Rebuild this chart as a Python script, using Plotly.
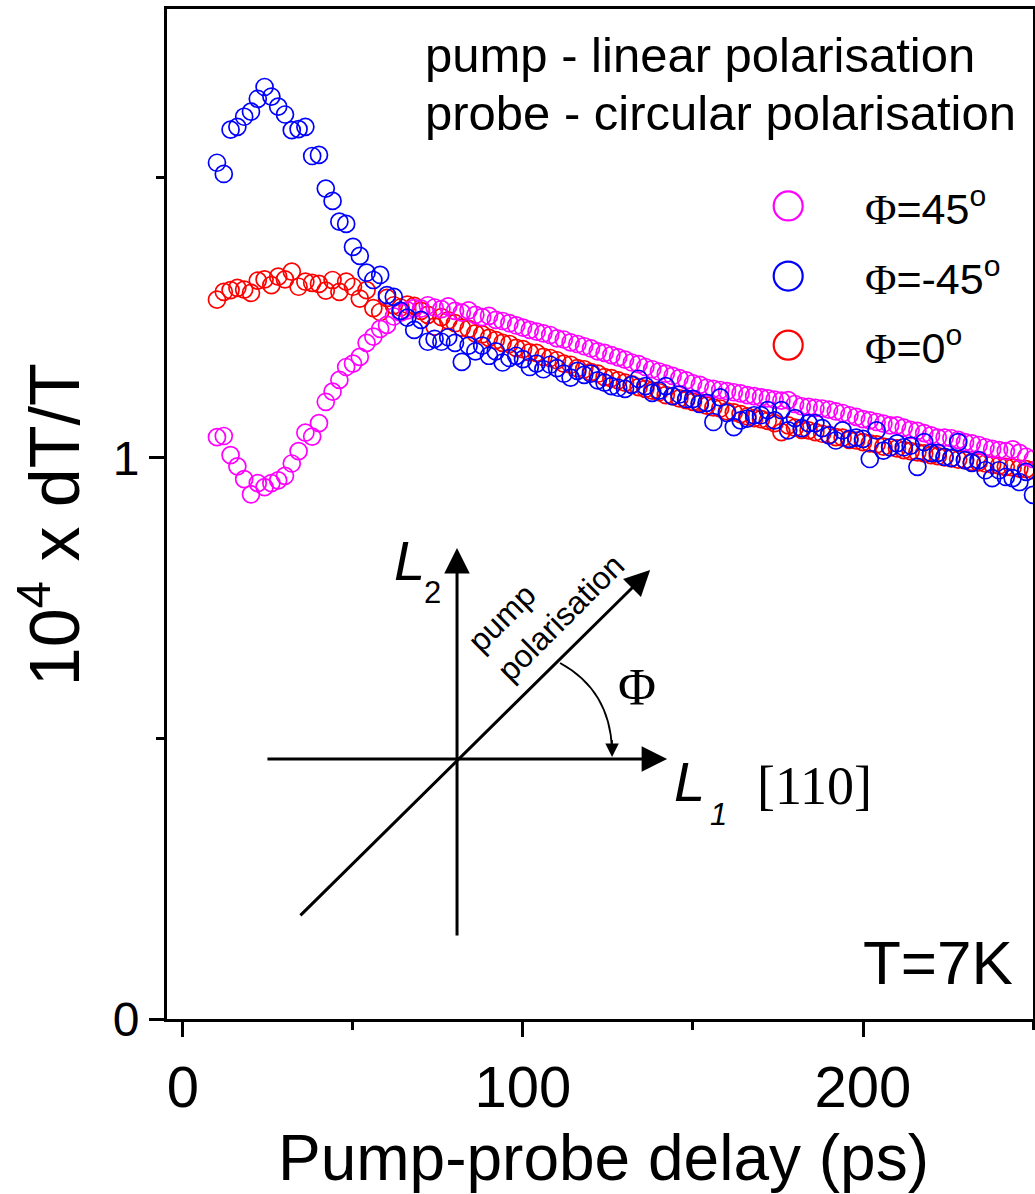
import plotly.graph_objects as go

# ---------------- data ----------------
delay_ps = [10, 12, 14, 16, 18, 20, 22, 24, 26, 28,
            30, 32, 34, 36, 38, 40, 42, 44, 46, 48,
            50, 52, 54, 56, 58, 60, 62, 64, 66, 68,
            70, 72, 74, 76, 78, 80, 82, 84, 86, 88,
            90, 92, 94, 96, 98, 100, 102, 104, 106, 108,
            110, 112, 114, 116, 118, 120, 122, 124, 126, 128,
            130, 132, 134, 136, 138, 140, 142, 144, 146, 148,
            150, 152, 154, 156, 158, 160, 162, 164, 166, 168,
            170, 172, 174, 176, 178, 180, 182, 184, 186, 188,
            190, 192, 194, 196, 198, 200, 202, 204, 206, 208,
            210, 212, 214, 216, 218, 220, 222, 224, 226, 228,
            230, 232, 234, 236, 238, 240, 242, 244, 246, 248,
            250]

phi_p45 = [1.037, 1.039, 1.005, 0.985, 0.962, 0.935, 0.955, 0.948, 0.955, 0.960,
           0.968, 0.990, 1.012, 1.045, 1.038, 1.062, 1.100, 1.118, 1.139, 1.162,
           1.168, 1.180, 1.205, 1.216, 1.230, 1.237, 1.252, 1.259, 1.263, 1.267,
           1.266, 1.272, 1.268, 1.265, 1.270, 1.262, 1.259, 1.263, 1.255, 1.251,
           1.253, 1.246, 1.244, 1.240, 1.236, 1.232, 1.228, 1.225, 1.222, 1.219,
           1.213, 1.211, 1.206, 1.203, 1.199, 1.195, 1.190, 1.187, 1.183, 1.179,
           1.175, 1.170, 1.167, 1.162, 1.158, 1.154, 1.150, 1.146, 1.142, 1.138,
           1.133, 1.130, 1.125, 1.123, 1.121, 1.119, 1.117, 1.115, 1.112, 1.110,
           1.108, 1.106, 1.104, 1.102, 1.103, 1.096, 1.092, 1.091, 1.089, 1.088,
           1.086, 1.083, 1.080, 1.076, 1.073, 1.069, 1.067, 1.064, 1.061, 1.058,
           1.058, 1.054, 1.050, 1.048, 1.044, 1.040, 1.036, 1.036, 1.035, 1.032,
           1.028, 1.026, 1.023, 1.019, 1.016, 1.014, 1.012, 1.015, 1.009, 1.002,
           0.998]

phi_m45 = [1.526, 1.506, 1.585, 1.590, 1.608, 1.617, 1.640, 1.661, 1.644, 1.626,
           1.612, 1.584, 1.586, 1.590, 1.538, 1.540, 1.480, 1.458, 1.421, 1.417,
           1.376, 1.360, 1.330, 1.317, 1.326, 1.290, 1.287, 1.262, 1.250, 1.228,
           1.246, 1.207, 1.212, 1.207, 1.215, 1.205, 1.171, 1.200, 1.190, 1.200,
           1.182, 1.190, 1.170, 1.178, 1.182, 1.176, 1.162, 1.168, 1.158, 1.166,
           1.160, 1.150, 1.143, 1.155, 1.148, 1.150, 1.138, 1.134, 1.128, 1.125,
           1.123, 1.130, 1.141, 1.128, 1.116, 1.120, 1.128, 1.110, 1.113, 1.105,
           1.105, 1.096, 1.098, 1.064, 1.108, 1.080, 1.055, 1.067, 1.070, 1.076,
           1.076, 1.085, 1.067, 1.085, 1.049, 1.071, 1.053, 1.062, 1.062, 1.053,
           1.040, 1.031, 1.049, 1.034, 1.036, 1.034, 0.998, 1.049, 1.013, 1.019,
           1.026, 1.019, 1.022, 0.984, 1.028, 1.009, 1.009, 1.002, 1.000, 1.028,
           0.996, 0.991, 0.996, 0.978, 0.964, 0.978, 0.966, 0.964, 0.957, 0.975,
           0.934]

phi_0 = [1.282, 1.296, 1.299, 1.303, 1.300, 1.294, 1.316, 1.318, 1.308, 1.323,
         1.318, 1.332, 1.305, 1.314, 1.312, 1.310, 1.298, 1.317, 1.296, 1.314,
         1.305, 1.284, 1.299, 1.267, 1.260, 1.285, 1.272, 1.268, 1.273, 1.271,
         1.262, 1.255, 1.234, 1.251, 1.245, 1.240, 1.232, 1.230, 1.222, 1.220,
         1.214, 1.210, 1.205, 1.203, 1.196, 1.194, 1.188, 1.187, 1.180, 1.178,
         1.174, 1.168, 1.166, 1.160, 1.158, 1.153, 1.150, 1.144, 1.142, 1.138,
         1.134, 1.131, 1.126, 1.123, 1.120, 1.117, 1.112, 1.110, 1.106, 1.103,
         1.100, 1.098, 1.093, 1.090, 1.088, 1.083, 1.081, 1.078, 1.074, 1.071,
         1.069, 1.066, 1.062, 1.046, 1.058, 1.054, 1.050, 1.049, 1.046, 1.043,
         1.041, 1.037, 1.036, 1.032, 1.031, 1.028, 1.026, 1.024, 1.020, 1.019,
         1.017, 1.014, 1.012, 1.010, 1.008, 1.005, 1.003, 1.001, 0.999, 0.997,
         0.996, 0.993, 0.992, 0.990, 0.988, 0.986, 0.984, 0.983, 0.981, 0.980,
         0.978]

series_names = ["Φ=45<sup>o</sup>", "Φ=-45<sup>o</sup>", "Φ=0<sup>o</sup>"]
series_colors = ["#FF00FF", "#0000FF", "#FF0000"]

x_ticks = [0, 100, 200]
x_minor = [50, 150, 250]
y_ticks = [0, 1]
y_minor = [0.5, 1.5]

SANS = "Liberation Sans, Arial, sans-serif"
SERIF = "Liberation Serif, Times New Roman, serif"

fig = go.Figure()

# draw order: red below, magenta, blue on top
for ys, col in [(phi_0, series_colors[2]), (phi_p45, series_colors[0]), (phi_m45, series_colors[1])]:
    fig.add_trace(go.Scatter(
        x=delay_ps, y=ys, mode="markers", showlegend=False,
        marker=dict(symbol="circle-open", size=17, color=col, line=dict(width=1.7, color=col)),
    ))

# hand-made legend (large symbols)
legend_x = 178
legend_y = [1.449, 1.324, 1.201]
for ly, col, name in zip(legend_y, series_colors, series_names):
    fig.add_trace(go.Scatter(
        x=[legend_x], y=[ly], mode="markers", showlegend=False, cliponaxis=False,
        marker=dict(symbol="circle-open", size=29, color=col, line=dict(width=2.2, color=col)),
    ))
    fig.add_annotation(
        x=200, y=ly, xref="x", yref="y", xanchor="left", yanchor="middle", showarrow=False,
        text=name.replace("Φ", "<span style='font-family:Liberation Serif'>Φ</span>"),
        font=dict(family=SANS, size=43, color="black"),
    )

annotations = []
# header text
annotations.append(dict(x=70.6, y=1.718, xref="x", yref="y", xanchor="left", yanchor="middle",
                        showarrow=False, text="pump - linear polarisation",
                        font=dict(family=SANS, size=49, color="black")))
annotations.append(dict(x=70.6, y=1.615, xref="x", yref="y", xanchor="left", yanchor="middle",
                        showarrow=False, text="probe - circular polarisation",
                        font=dict(family=SANS, size=49, color="black")))
# temperature
annotations.append(dict(x=244.7, y=0.10, xref="x", yref="y", xanchor="right", yanchor="middle",
                        showarrow=False, text="T=7K",
                        font=dict(family=SANS, size=62, color="black")))

# inset diagram: arrows (tip x,y ; tail ax,ay) in axis units
arrows = [
    (142.4, 0.4635, 24.4, 0.4635),   # L1 axis
    (80.6, 0.8396, 80.6, 0.146),     # L2 axis
    (137.4, 0.800, 34.1, 0.182),     # pump polarisation
]
for (xt, yt, xa, ya) in arrows:
    annotations.append(dict(x=xt, y=yt, ax=xa, ay=ya, xref="x", yref="y", axref="x", ayref="y",
                            text="", showarrow=True, arrowhead=2, arrowsize=1.7, arrowwidth=3,
                            arrowcolor="black"))
# small arrowhead at the end of the angle arc
annotations.append(dict(x=126.2, y=0.467, ax=126.2, ay=0.50, xref="x", yref="y", axref="x", ayref="y",
                        text="", showarrow=True, arrowhead=2, arrowsize=1.8, arrowwidth=1.5,
                        arrowcolor="black"))

# inset labels
annotations += [
    dict(x=66.5, y=0.818, xref="x", yref="y", showarrow=False, text="<i>L</i>",
         font=dict(family=SANS, size=56, color="black")),
    dict(x=73.4, y=0.760, xref="x", yref="y", showarrow=False, text="2",
         font=dict(family=SANS, size=31, color="black")),
    dict(x=149.1, y=0.424, xref="x", yref="y", showarrow=False, text="<i>L</i>",
         font=dict(family=SANS, size=56, color="black")),
    dict(x=157.6, y=0.365, xref="x", yref="y", showarrow=False, text="<i>1</i>",
         font=dict(family=SANS, size=31, color="black")),
    dict(x=185.6, y=0.415, xref="x", yref="y", showarrow=False, text="[110]",
         font=dict(family=SERIF, size=54, color="black")),
    dict(x=133.5, y=0.590, xref="x", yref="y", showarrow=False, text="Φ",
         font=dict(family=SERIF, size=52, color="black")),
    dict(x=106.8, y=0.742, xref="x", yref="y", showarrow=False, text="pump<br>polarisation",
         textangle=-45, align="left", font=dict(family=SANS, size=32, color="black")),
]

# axis titles
annotations.append(dict(x=0.5035, y=-0.1376, xref="paper", yref="paper", showarrow=False,
                        xanchor="center", yanchor="middle", text="Pump-probe delay (ps)",
                        font=dict(family=SANS, size=64, color="black")))
annotations.append(dict(x=-0.135, y=0.489, xref="paper", yref="paper", showarrow=False,
                        xanchor="center", yanchor="middle", textangle=-90,
                        text="10<sup>4</sup> x dT/T",
                        font=dict(family=SANS, size=70, color="black")))

for a in annotations:
    fig.add_annotation(**a)

# angle arc
fig.add_shape(type="path", xref="x", yref="y",
              path="M 110.9,0.6346 Q 125.6,0.586 126.2,0.48",
              line=dict(color="black", width=1.8))

fig.update_layout(
    width=1035, height=1194,
    margin=dict(l=167, r=2, t=9, b=175, autoexpand=False),
    paper_bgcolor="white", plot_bgcolor="white",
    showlegend=False,
    font=dict(family=SANS, color="black"),
    xaxis=dict(range=[-4.7, 250], showgrid=False, zeroline=False,
               showline=True, linecolor="black", linewidth=3, mirror=True,
               ticks="outside", ticklen=15, tickwidth=3, tickcolor="black",
               tickvals=x_ticks, ticktext=[str(v) for v in x_ticks],
               tickfont=dict(family=SANS, size=58, color="black"),
               minor=dict(tickvals=x_minor, ticks="outside", ticklen=8, tickwidth=3, tickcolor="black")),
    yaxis=dict(range=[0, 1.8], showgrid=False, zeroline=False,
               showline=True, linecolor="black", linewidth=3, mirror=True,
               ticks="outside", ticklen=15, tickwidth=3, tickcolor="black",
               tickvals=y_ticks, ticktext=[str(v) for v in y_ticks],
               tickfont=dict(family=SANS, size=48, color="black"),
               minor=dict(tickvals=y_minor, ticks="outside", ticklen=8, tickwidth=3, tickcolor="black")),
)

fig.write_html("out.html")
